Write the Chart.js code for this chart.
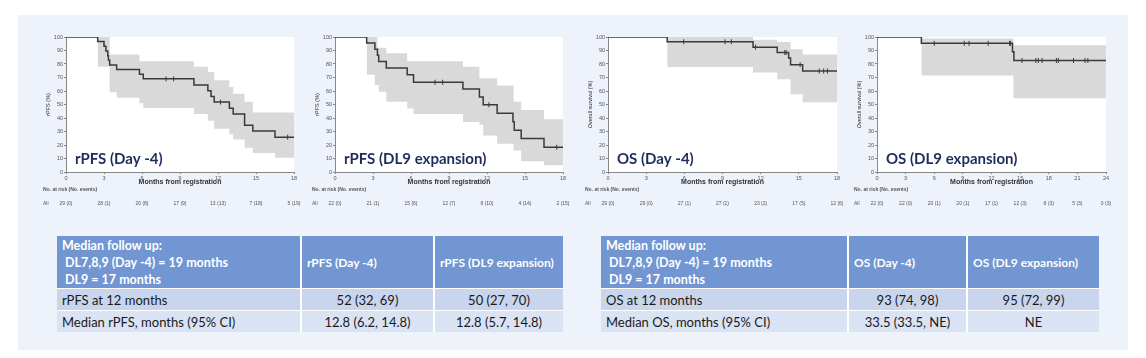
<!DOCTYPE html>
<html>
<head>
<meta charset="utf-8">
<script src="https://cdn.jsdelivr.net/npm/chart.js@4.4.1/dist/chart.umd.min.js"></script>
<style>
  body { margin: 0; width: 1146px; height: 358px; background: #fff; position: relative; overflow: hidden; font-family: Lato, "Open Sans", sans-serif; }
  .panel { position: absolute; left: 18px; top: 15px; width: 1110px; height: 335px; background: #eef2fa; }
  .box { position: absolute; }
  .tbl { position: absolute; top: 236px; display: grid; grid-template-rows: 52px 21px 21px; row-gap: 1px; column-gap: 2px; background: #fff; }
  .tbl div { display: flex; align-items: center; font-size: 13px; color: #1a1a1a; white-space: nowrap; }
  .tbl .hd { background: #7196d2; color: #fff; font-weight: bold; font-size: 12px; padding-left: 5px; line-height: 17px; }
  .tbl .hd.first { font-size: 12.5px; }
  .tbl .r1 { background: #c8d5ed; }
  .tbl .r2 { background: #dae3f3; }
  .tbl .l { padding-left: 5px; }
  .tbl .c { justify-content: center; }
</style>
</head>
<body>
<div class="panel"></div>

<div class="box" style="left:36px; top:28px;"><canvas id="km1" width="270" height="184"></canvas></div>
<div class="box" style="left:305px; top:28px;"><canvas id="km2" width="270" height="184"></canvas></div>
<div class="box" style="left:578px; top:28px;"><canvas id="km3" width="271" height="184"></canvas></div>
<div class="box" style="left:847px; top:28px;"><canvas id="km4" width="271" height="184"></canvas></div>

<!-- 표: rPFS -->
<div class="tbl" style="left:57px; grid-template-columns: 243px 131px 128px;">
  <div class="hd first">Median follow up:<br>&nbsp;DL7,8,9 (Day -4) = 19 months<br>&nbsp;DL9 = 17 months</div>
  <div class="hd">rPFS (Day -4)</div>
  <div class="hd">rPFS (DL9 expansion)</div>
  <div class="r1 l">rPFS at 12 months</div>
  <div class="r1 c">52 (32, 69)</div>
  <div class="r1 c">50 (27, 70)</div>
  <div class="r2 l">Median rPFS, months (95% CI)</div>
  <div class="r2 c">12.8 (6.2, 14.8)</div>
  <div class="r2 c">12.8 (5.7, 14.8)</div>
</div>

<!-- 표: OS -->
<div class="tbl" style="left:601px; grid-template-columns: 246px 117px 131px;">
  <div class="hd first">Median follow up:<br>&nbsp;DL7,8,9 (Day -4) = 19 months<br>&nbsp;DL9 = 17 months</div>
  <div class="hd">OS (Day -4)</div>
  <div class="hd">OS (DL9 expansion)</div>
  <div class="r1 l">OS at 12 months</div>
  <div class="r1 c">93 (74, 98)</div>
  <div class="r1 c">95 (72, 99)</div>
  <div class="r2 l">Median OS, months (95% CI)</div>
  <div class="r2 c">33.5 (33.5, NE)</div>
  <div class="r2 c">NE</div>
</div>

<script>
/* rPFS (Day -4) */
const time1 = [0, 2.5, 3.0, 3.15, 3.3, 3.35, 3.45, 4.0, 5.8, 6.1, 10.1, 11.2, 11.45, 11.7, 12.9, 13.2, 14.1, 14.75, 16.5, 18];
const surv1 = [100, 96.6, 93.1, 89.7, 86.2, 82.8, 79.3, 75.9, 72.4, 69.0, 64.5, 60.2, 56.0, 51.8, 47.3, 43.0, 34.6, 30.3, 25.8, 25.8];
const censor1 = [7.9, 8.5, 12.2, 17.5];
const bandTime1 = [2.5, 3.45, 4.0, 5.8, 6.1, 10.1, 11.2, 11.7, 12.9, 13.2, 14.1, 14.75, 16.5, 18];
const upper1 = [100, 87, 87, 82, 82, 78, 74, 68, 63, 58, 52, 44, 44, 44];
const lower1 = [78, 59, 55, 51, 47.5, 43, 38, 32, 28, 24, 18, 14, 10.5, 10.5];
const risk1 = ['29 (0)', '28 (1)', '20 (8)', '17 (9)', '13 (13)', '7 (18)', '5 (19)'];

/* rPFS (DL9 expansion) */
const time2 = [0, 2.5, 3.15, 3.35, 3.45, 4.05, 5.7, 6.2, 10.1, 11.4, 11.7, 12.8, 14.05, 14.15, 14.7, 16.5, 18];
const surv2 = [100, 95.5, 90.9, 86.4, 81.8, 77.0, 72.0, 66.5, 61.5, 55.5, 49.8, 43.5, 37.3, 31.0, 24.8, 18.3, 18.3];
const censor2 = [7.9, 8.5, 12.15, 17.5];
const bandTime2 = [2.5, 3.15, 3.35, 3.45, 4.05, 5.7, 6.2, 10.1, 11.4, 11.7, 12.8, 14.1, 14.7, 16.5, 18];
const upper2 = [100, 100, 92, 92, 88, 82, 82, 78, 69.5, 69.5, 64, 52, 46, 39, 39];
const lower2 = [72, 64.5, 64.5, 59.5, 52, 47, 43, 37, 35, 27, 21, 16, 8, 5, 5];
const risk2 = ['22 (0)', '21 (1)', '15 (6)', '12 (7)', '8 (10)', '4 (14)', '2 (15)'];

/* OS (Day -4) */
const time3 = [0, 4.65, 11.4, 13.3, 14.2, 14.35, 15.3, 18];
const surv3 = [100, 96.5, 92.5, 88.5, 84.5, 79.5, 74.8, 74.8];
const censor3 = [5.95, 9.2, 9.7, 11.6, 13.9, 14.0, 15.1, 16.6, 16.95, 17.25];
const bandTime3 = [4.65, 11.4, 13.3, 14.35, 15.3, 18];
const upper3 = [100, 98, 96.3, 91, 87, 87];
const lower3 = [77.7, 73.7, 68.7, 57.6, 51.6, 51.6];
const risk3 = ['29 (0)', '29 (0)', '27 (1)', '27 (1)', '23 (2)', '17 (5)', '12 (6)'];

/* OS (DL9 expansion) */
const time4 = [0, 4.65, 14.2, 14.35, 24];
const surv4 = [100, 95.3, 89, 82.6, 82.6];
const censor4 = [6.0, 9.15, 9.65, 11.65, 13.9, 14.0, 15.2, 16.65, 16.9, 17.3, 18.8, 19.0, 20.6, 21.8, 22.1];
const bandTime4 = [4.65, 14.3, 24];
const upper4 = [98.8, 93.8, 93.8];
const lower4 = [71.5, 54.6, 54.6];
const risk4 = ['22 (0)', '22 (0)', '20 (1)', '20 (1)', '17 (1)', '12 (3)', '8 (3)', '5 (3)', '0 (3)'];


// 제목 + 흰 배경 + at risk 표
const kmExtras = {
	id: 'kmExtras',
	beforeDraw(chart) {
		const a = chart.chartArea, c = chart.ctx;
		c.save();
		c.fillStyle = '#ffffff';
		c.fillRect(a.left, a.top, a.right - a.left, a.bottom - a.top);
		c.restore();
	},
	afterDraw(chart, args, opts) {
		const a = chart.chartArea, c = chart.ctx, x = chart.scales.x;
		c.save();
		c.font = 'bold 15px Lato';
		c.fillStyle = '#1f2d5c';
		c.textBaseline = 'alphabetic';
		c.fillText(opts.title, a.left + 9, a.bottom - 8);

		c.fillStyle = '#555';
		c.textBaseline = 'middle';
		c.font = 'bold 5px "Liberation Sans"';
		c.fillText('No. at risk (No. events)', a.left - 23, a.bottom + 18);
		c.font = '5px "Liberation Sans"';
		c.fillText('All', a.left - 23, a.bottom + 32);
		c.textAlign = 'center';
		opts.risk.forEach(function(r, i) {
			c.fillText(r, x.getPixelForValue(i * opts.step), a.bottom + 32);
		});
		c.restore();
	}
};

function pts(xs, ys) {
	return xs.map(function(t, i) { return { x: t, y: ys[i] }; });
}

// 중도절단 표시 위치 = 그 시점의 생존율
function censorPts(times, xs, ys) {
	return times.map(function(t) {
		let v = ys[0];
		for (let i = 0; i < xs.length; i++) { if (xs[i] <= t) v = ys[i]; }
		return { x: t, y: v };
	});
}

function makeConfig(d) {
	return {
		type: 'line',
		data: {
			datasets: [{
				data: pts(d.bandTime, d.upper),
				stepped: true, borderWidth: 0, pointRadius: 0, fill: false, order: 3
			}, {
				data: pts(d.bandTime, d.lower),
				stepped: true, borderWidth: 0, pointRadius: 0, fill: '-1',
				backgroundColor: '#d9d9d9', order: 3
			}, {
				data: pts(d.time, d.surv),
				stepped: true, borderColor: '#3a3a3a', borderWidth: 1.5, pointRadius: 0, fill: false, order: 1
			}, {
				data: censorPts(d.censor, d.time, d.surv),
				showLine: false, pointStyle: 'line', rotation: 90, pointRadius: 2.5,
				borderColor: '#3a3a3a', borderWidth: 1, order: 0
			}]
		},
		options: {
			responsive: false,
			animation: false,
			devicePixelRatio: 1,
			layout: { padding: { left: 0, right: 12, top: 9, bottom: 26 } },
			plugins: {
				legend: { display: false },
				tooltip: { enabled: false },
				kmExtras: { title: d.title, risk: d.risk, step: 3 }
			},
			scales: {
				x: {
					type: 'linear', min: 0, max: d.xmax,
					afterFit: function(s) { s.height = 14; },
					ticks: { stepSize: 3, padding: 1, color: '#555', font: { size: 5.5, family: 'Liberation Sans' } },
					grid: { drawOnChartArea: false, tickLength: 2, color: '#888' },
					border: { color: '#888' },
					title: { display: true, text: 'Months from registration', color: '#333', padding: 0,
						font: { size: 7, weight: 'bold', family: 'Liberation Sans' } }
				},
				y: {
					min: 0, max: 100,
					afterFit: function(s) { s.width = 30; },
					ticks: { stepSize: 10, padding: 1, color: '#555', font: { size: 5.5, family: 'Liberation Sans' } },
					grid: { drawOnChartArea: false, tickLength: 2, color: '#888' },
					border: { color: '#888' },
					title: { display: true, text: d.ytitle, color: '#333', padding: { top: 9, bottom: 0 },
						font: { size: 5.5, family: 'Liberation Sans' } }
				}
			}
		},
		plugins: [kmExtras]
	};
}

new Chart(document.getElementById('km1'), makeConfig({
	title: 'rPFS (Day -4)', ytitle: 'rPFS (%)', xmax: 18,
	time: time1, surv: surv1, censor: censor1, bandTime: bandTime1, upper: upper1, lower: lower1, risk: risk1
}));
new Chart(document.getElementById('km2'), makeConfig({
	title: 'rPFS (DL9 expansion)', ytitle: 'rPFS (%)', xmax: 18,
	time: time2, surv: surv2, censor: censor2, bandTime: bandTime2, upper: upper2, lower: lower2, risk: risk2
}));
new Chart(document.getElementById('km3'), makeConfig({
	title: 'OS (Day -4)', ytitle: 'Overall survival (%)', xmax: 18,
	time: time3, surv: surv3, censor: censor3, bandTime: bandTime3, upper: upper3, lower: lower3, risk: risk3
}));
new Chart(document.getElementById('km4'), makeConfig({
	title: 'OS (DL9 expansion)', ytitle: 'Overall survival (%)', xmax: 24,
	time: time4, surv: surv4, censor: censor4, bandTime: bandTime4, upper: upper4, lower: lower4, risk: risk4
}));
</script>
</body>
</html>
